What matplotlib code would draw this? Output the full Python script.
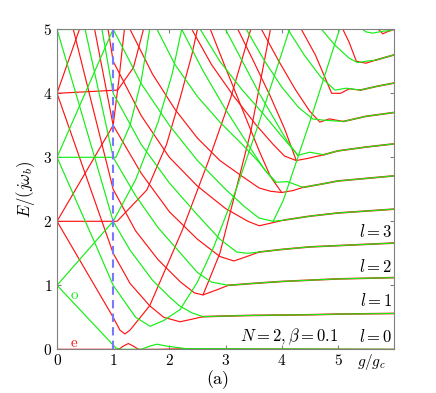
import matplotlib
matplotlib.use("Agg")
import matplotlib.pyplot as plt

plt.rcParams['font.family'] = 'serif'
plt.rcParams['font.serif'] = ['cmr10', 'DejaVu Serif']
plt.rcParams['mathtext.fontset'] = 'cm'
plt.rcParams['axes.formatter.use_mathtext'] = True

RED = '#ff1414'
GREEN = '#14ee14'

x_ticks = [0, 1, 2, 3, 4, 5]
y_ticks = [0, 1, 2, 3, 4, 5]

# ---------- asymptotic levels l (red and green coincide), (x, E) ----------
lev1 = [(2.6, 0.51), (3.0, 0.52), (3.5, 0.53), (4.0, 0.535), (4.5, 0.54), (5.0, 0.55), (5.5, 0.555), (6.0, 0.56)]
lev2 = [(3.05, 1.0), (3.5, 1.03), (4.0, 1.06), (4.5, 1.08), (5.0, 1.10), (5.5, 1.11), (6.0, 1.12)]
lev3 = [(3.6, 1.52), (4.0, 1.56), (4.5, 1.60), (5.0, 1.62), (5.5, 1.64), (6.0, 1.66)]
lev4 = [(4.05, 2.02), (4.5, 2.08), (5.0, 2.13), (5.5, 2.16), (6.0, 2.19)]
lev5 = [(4.38, 2.53), (4.7, 2.58), (5.0, 2.63), (5.5, 2.67), (6.0, 2.71)]
lev6 = [(4.75, 3.04), (5.0, 3.10), (5.5, 3.16), (6.0, 3.21)]
lev7 = [(5.1, 3.56), (5.5, 3.64), (6.0, 3.70)]
lev8 = [(5.4, 4.05), (5.7, 4.11), (6.0, 4.16)]
lev9 = [(5.68, 4.52), (6.0, 4.60)]
lev10 = [(5.93, 4.98), (6.0, 5.0)]

# ---------- ground states ----------
red_ground = [(0, 0), (1.1, 0), (1.18, 0.05), (1.27, 0.09), (1.36, 0.05), (1.45, 0.0), (1.8, 0.0), (2.3, 0.01), (6, 0)]
green_ground = [(0, 1), (1.05, 0.02), (1.12, 0.0), (1.5, 0.0), (1.65, 0.05), (1.78, 0.08), (1.95, 0.05), (2.3, 0.01), (6, 0)]

# ---------- descending branches ending in the levels ----------
red_l1 = [(0, 4), (0.8, 2.0), (1.0, 1.5), (1.3, 1.03), (1.65, 0.68), (1.9, 0.5), (2.19, 0.43), (2.4, 0.47), (2.6, 0.51)]
green_l1 = [(0, 5), (0.67, 3.0), (1.0, 2.0), (1.3, 1.55), (1.7, 1.08), (2.0, 0.82), (2.18, 0.68), (2.4, 0.57), (2.6, 0.51)]
red_l2 = [(0.29, 5), (1.0, 2.5), (1.4, 1.85), (1.8, 1.4), (2.2, 1.05), (2.45, 0.88), (2.6, 0.85), (2.85, 0.93), (3.05, 1.0)]
green_l2 = [(0.5, 5), (1.0, 3.0), (1.4, 2.4), (1.8, 1.9), (2.2, 1.5), (2.5, 1.2), (2.75, 1.05), (3.05, 1.0)]
red_l3 = [(0.67, 5), (1.0, 3.5), (1.5, 2.75), (2.0, 2.15), (2.5, 1.72), (2.9, 1.45), (3.15, 1.38), (3.35, 1.44), (3.6, 1.52)]
green_l3 = [(0.8, 5), (1.0, 4.0), (1.5, 3.2), (2.0, 2.6), (2.5, 2.1), (2.9, 1.72), (3.2, 1.52), (3.4, 1.5), (3.6, 1.52)]
red_l4 = [(0.91, 5), (1.0, 4.5), (1.5, 3.65), (2.0, 3.0), (2.5, 2.55), (3.0, 2.2), (3.4, 2.0), (3.6, 1.93), (3.8, 1.97), (4.05, 2.02)]
green_l4 = [(1.0, 5), (1.5, 4.15), (2.0, 3.5), (2.5, 2.95), (3.0, 2.5), (3.35, 2.22), (3.6, 2.05), (3.85, 2.0), (4.05, 2.02)]
red_m1 = [(1.30, 5), (1.7, 4.3), (2.1, 3.75), (2.5, 3.3), (2.9, 2.95), (3.3, 2.7), (3.6, 2.52), (3.8, 2.47), (4.0, 2.45)]
green_m1 = [(1.78, 5), (2.1, 4.45), (2.5, 3.95), (2.9, 3.55), (3.3, 3.2), (3.6, 2.92), (3.75, 2.75), (3.9, 2.61)]
green_l5 = [(2.22, 5), (2.6, 4.35), (3.0, 3.75), (3.4, 3.2), (3.7, 2.8), (3.9, 2.61), (4.1, 2.62), (4.38, 2.53)]
red_l5 = [(2.73, 5), (3.0, 4.4), (3.3, 3.75), (3.6, 3.1), (3.8, 2.7), (4.0, 2.45), (4.2, 2.48), (4.38, 2.53)]
red_m2 = [(2.4, 5), (2.75, 4.45), (3.15, 3.95), (3.55, 3.5), (3.85, 3.2), (4.05, 3.02), (4.26, 2.95)]
green_m2 = [(2.55, 5), (2.9, 4.5), (3.3, 4.05), (3.7, 3.65), (4.0, 3.33), (4.29, 3.03)]
green_l6 = [(3.0, 5), (3.3, 4.5), (3.6, 4.0), (3.9, 3.55), (4.1, 3.25), (4.29, 3.03), (4.5, 3.08), (4.75, 3.04)]
red_l6 = [(3.22, 5), (3.5, 4.5), (3.8, 3.95), (4.05, 3.45), (4.26, 2.95), (4.45, 2.98), (4.75, 3.04)]
green_l7 = [(3.37, 5), (3.7, 4.5), (4.0, 4.1), (4.3, 3.78), (4.55, 3.6), (4.75, 3.58), (5.1, 3.56)]
red_l7 = [(3.64, 5), (3.95, 4.5), (4.25, 4.05), (4.5, 3.72), (4.68, 3.55), (4.85, 3.6), (5.1, 3.56)]
green_l8 = [(4.11, 5), (4.4, 4.6), (4.7, 4.25), (4.95, 4.05), (5.15, 4.08), (5.4, 4.05)]
red_l8 = [(4.35, 5), (4.6, 4.6), (4.89, 4.0), (5.05, 4.0), (5.2, 4.07), (5.4, 4.05)]
green_l9 = [(4.71, 5), (4.95, 4.75), (5.2, 4.55), (5.35, 4.48), (5.5, 4.5), (5.68, 4.52)]
red_l9 = [(5.09, 5), (5.2, 4.8), (5.33, 4.5), (5.5, 4.47), (5.68, 4.52)]
green_l10 = [(5.4, 5.03), (5.5, 4.96), (5.62, 4.94), (5.8, 4.97), (5.93, 4.98)]
red_l10 = [(5.7, 5.02), (5.8, 4.93), (5.93, 4.98)]

# ---------- ascending branches ----------
green_up1 = [(0, 1), (0.67, 1.67), (1.0, 2.0), (1.4, 2.65), (1.8, 3.55), (2.05, 4.3), (2.22, 5)]
red_flat2 = [(0, 2), (1.07, 2.0), (1.6, 2.49), (1.95, 3.2), (2.2, 3.95), (2.4, 4.6), (2.5, 5)]
red_up2 = [(0, 2), (1.0, 3.5), (1.1, 4.2), (1.2, 5)]
green_up3 = [(0, 3), (1.0, 5)]
green_flat3 = [(0, 3), (1.05, 3.0), (1.3, 3.5), (1.5, 4.2), (1.65, 5)]
red_flat4 = [(0, 4), (1.08, 4.05), (1.36, 4.4), (1.54, 5)]
red_up4 = [(0, 4), (0.4, 5)]
green_flat5 = [(0, 5), (0.5, 5)]
red_refl = [(0, 2), (1.0, 0.5), (1.12, 0.3), (1.21, 0.24), (1.3, 0.3), (1.65, 0.68), (2.23, 1.86), (2.7, 2.95),
            (3.1, 3.95), (3.45, 5)]
green_refl = [(0, 3), (0.67, 1.67), (1.0, 1.0), (1.4, 0.5), (1.66, 0.36), (1.9, 0.45), (2.19, 0.62), (2.5, 1.05),
              (2.79, 1.6), (3.19, 2.5), (3.6, 3.55), (4.14, 5)]
red_refl_l2 = [(2.6, 0.85), (2.9, 1.5), (3.14, 2.33), (3.45, 3.4), (3.8, 5)]
green_refl_l4 = [(3.85, 2.0), (4.03, 2.33), (4.5, 3.55), (5.03, 5)]

levels = [lev1, lev2, lev3, lev4, lev5, lev6, lev7, lev8, lev9, lev10]
red_curves = [red_ground, red_l1, red_l2, red_l3, red_l4, red_m1, red_l5, red_m2, red_l6, red_l7, red_l8, red_l9,
              red_l10, red_flat2, red_up2, red_flat4, red_up4, red_refl, red_refl_l2]
green_curves = [green_ground, green_l1, green_l2, green_l3, green_l4, green_m1, green_l5, green_m2, green_l6,
                green_l7, green_l8, green_l9, green_l10, green_up1, green_up3, green_flat3, green_flat5,
                green_refl, green_refl_l4]


def draw(ax, pts, color, lw=0.85):
    ax.plot([p[0] for p in pts], [p[1] for p in pts], color=color, lw=lw, solid_joinstyle='round',
            solid_capstyle='round')


fig = plt.figure(figsize=(4.36, 3.93), dpi=100)
ax = fig.add_axes([57/436, 1-349.3/393, 337/436, 320/393])

for c in red_curves:
    draw(ax, c, RED)
for c in green_curves:
    draw(ax, c, GREEN)
for lev in levels:
    draw(ax, lev, RED, 1.2)
    draw(ax, lev, GREEN, 0.8)

ax.axvline(1, color='#7878ff', ls=(0, (4, 2.5)), lw=1.5)

ax.set_xlim(0, 6)
ax.set_ylim(0, 5)
ax.set_xticks(x_ticks + [6])
ax.set_xticklabels([str(t) for t in x_ticks] + [''])
ax.set_yticks(y_ticks)
ax.tick_params(direction='in', top=True, right=True, length=3, labelsize=11, color='#808080')
for s in ax.spines.values():
    s.set_color('#808080')
    s.set_linewidth(0.8)

ax.set_ylabel(r'$E/(j\omega_b)$', fontsize=12)
ax.text(5.6, -0.05, r'$g/g_c$', ha='center', va='top', fontsize=11)
fig.text(218/436, 1-380/393, '(a)', ha='center', va='center', fontsize=13)

ax.text(5.97, 1.84, r'$l=3$', ha='right', va='center', fontsize=12)
ax.text(5.97, 1.30, r'$l=2$', ha='right', va='center', fontsize=12)
ax.text(5.97, 0.755, r'$l=1$', ha='right', va='center', fontsize=12)
ax.text(5.97, 0.20, r'$l=0$', ha='right', va='center', fontsize=12)
ax.text(5.0, 0.20, r'$N=2,\beta=0.1$', ha='right', va='center', fontsize=12)
ax.text(0.31, 0.85, 'o', color=GREEN, ha='center', va='center', fontsize=11)
ax.text(0.31, 0.09, 'e', color=RED, ha='center', va='center', fontsize=11)

fig.savefig('out.png', dpi=100)
